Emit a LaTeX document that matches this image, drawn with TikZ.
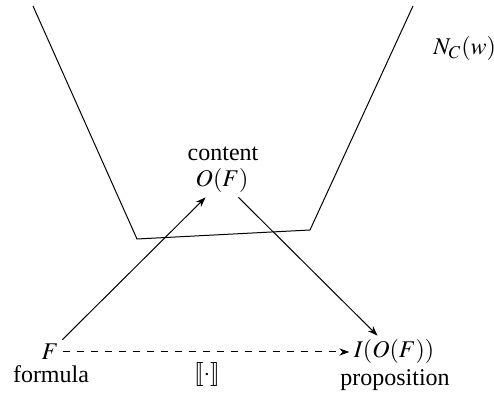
\documentclass[tikz,border=0pt]{standalone}
\usepackage{mathptmx}
\usepackage{stmaryrd}
\usepackage[no-math]{fontspec}
\setmainfont{Liberation Serif}
\usetikzlibrary{arrows.meta}
\begin{document}
\begin{tikzpicture}[x=0.5pt,y=-0.5pt,
  every node/.style={inner sep=2pt,font=\fontsize{12}{14}\selectfont},
  txt/.style={inner sep=0pt,anchor=base},
  link/.style={line width=0.5pt,-{Stealth[length=5pt,width=3.6pt,inset=1.6pt]}},
  maplink/.style={link,dash pattern=on 3.6pt off 3.4pt},
  region/.style={line width=0.5pt}]
\useasboundingbox (0,0) rectangle (494,395);

% region boundary
\draw[region] (33,6) -- (137,239) -- (310,230) -- (413,6);
\node[txt,anchor=base west] (nc) at (433,55) {$N_C(w)$};

% objects
\node (F)   at (50,352)  {$F$};
\node (OF)  at (222,181) {$O(F)$};
\node (IOF) at (394,352) {$I(O(F))$};

% captions
\node[txt] (content) at (223,161) {content};
\node[txt] (formula) at (51,383)  {formula};
\node[txt] (prop)    at (395,386) {proposition};
\node[txt] (interp)  at (207,381) {$\llbracket\cdot\rrbracket$};

% maps
\draw[link] (F) -- (OF);
\draw[link] (OF) -- (IOF);
\draw[maplink] (F) -- (IOF);
\end{tikzpicture}
\end{document}
